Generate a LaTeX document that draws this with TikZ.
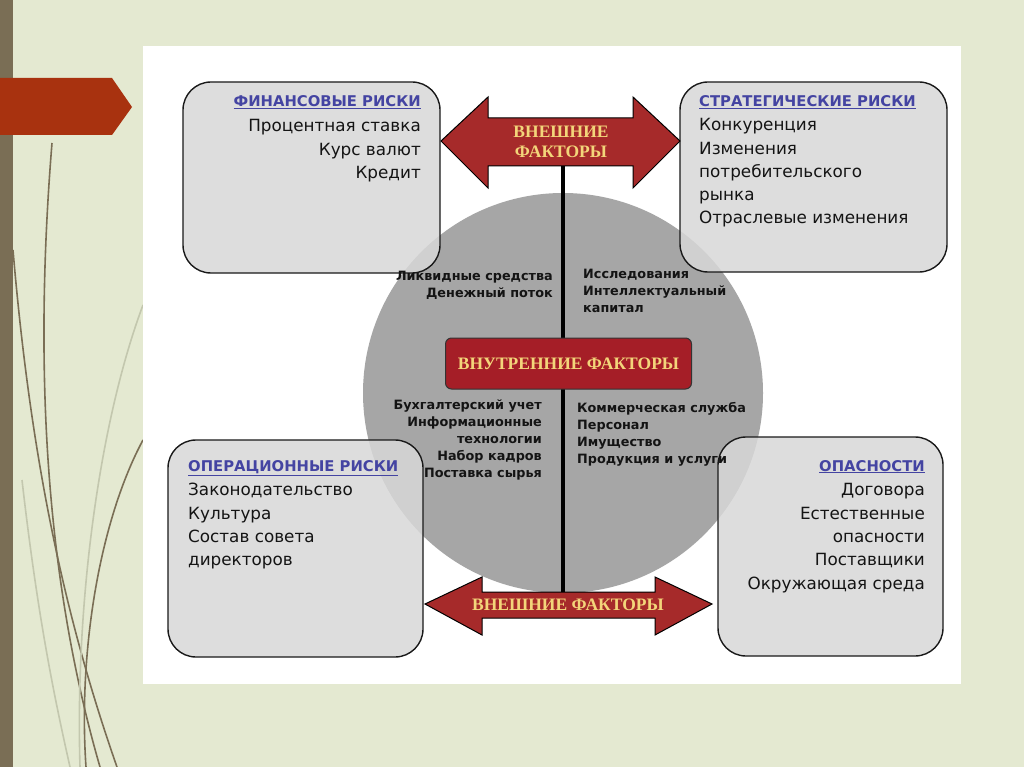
\documentclass[tikz,border=0pt]{standalone}
\usepackage{fontspec}
\setmainfont{DejaVu Sans}
\newfontfamily\yserif{Liberation Serif}
\definecolor{bggreen}{HTML}{E4E9D1}
\definecolor{stripe}{HTML}{7A6E55}
\definecolor{tabred}{HTML}{A8320F}
\definecolor{boxgray}{HTML}{D8D8D8}
\definecolor{circgray}{HTML}{A6A6A6}
\definecolor{headblue}{HTML}{4444A2}
\definecolor{arrred}{HTML}{A62A2A}
\definecolor{inred}{HTML}{A51E27}
\definecolor{ytext}{HTML}{F3D57A}
\definecolor{lightcurve}{HTML}{C3C7AE}
\begin{document}
\begin{tikzpicture}[x=1pt,y=-1pt,
  riskbox/.style={draw=black!90, line width=1.4pt, fill=boxgray, fill opacity=0.85, draw opacity=1, rounded corners=28pt},
  headtxt/.style={font=\fontsize{14.8}{16}\selectfont\bfseries, text=headblue, inner sep=0pt},
  bodytxt/.style={font=\fontsize{16.8}{20}\selectfont, text=black!92, inner sep=0pt},
  circtxt/.style={font=\fontsize{12.8}{15}\selectfont\bfseries, text=black!92, inner sep=0pt},
  ytxt/.style={font=\fontsize{17.5}{20}\selectfont\yserif\bfseries, text=ytext, inner sep=0pt},
  bigarrow/.style={fill=arrred, draw=black, line width=1pt, line join=miter},
  decor/.style={draw=stripe, line width=1.6pt},
  decorlight/.style={draw=lightcurve, line width=1.6pt}
]
\useasboundingbox (0,0) rectangle (1024,767);
% background
\fill[bggreen] (0,0) rectangle (1024,767);
\fill[stripe] (0,0) rectangle (13,767);
\path[decor] (52,143) .. controls (36,340) and (40,560) .. (100,767);
\path[decor] (13,250) .. controls (30,450) and (62,610) .. (117,767);
\path[decorlight] (143,305) .. controls (100,420) and (75,600) .. (80,767);
\path[decor] (143,440) .. controls (100,520) and (78,650) .. (86,767);
\path[decorlight] (22,480) .. controls (38,620) and (55,700) .. (70,767);
\fill[tabred] (0,78) -- (112,78) -- (132,107) -- (112,135) -- (0,135) -- cycle;
% white panel
\fill[white] (143,46) rectangle (961,684);
% circle
\fill[circgray] (563,393) circle[radius=200];
% risk boxes
\path[riskbox] (183,82) rectangle (440,273);
\path[riskbox] (680,82) rectangle (947,272);
\path[riskbox] (168,440) rectangle (423,657);
\path[riskbox] (718,437) rectangle (943,656);
% vertical axis
\coordinate (vtop) at (563,160);
\coordinate (vbot) at (563,598);
\draw[black, line width=3.5pt] (vtop) -- (vbot);
% top double arrow
\path[bigarrow] (441,141) -- (488,97) -- (488,118) -- (633,118) -- (633,97) -- (680,141)
  -- (633,188) -- (633,166) -- (488,166) -- (488,188) -- cycle;
\node[ytxt, anchor=base] (ext1a) at (561,138) {ВНЕШНИЕ};
\node[ytxt, anchor=base] (ext1b) at (561,158) {ФАКТОРЫ};
% bottom double arrow
\path[bigarrow] (425,604) -- (482,577) -- (482,592) -- (655,592) -- (655,577) -- (712,604)
  -- (655,635) -- (655,618) -- (482,618) -- (482,635) -- cycle;
\node[ytxt, anchor=base] (ext2) at (568,610) {ВНЕШНИЕ ФАКТОРЫ};
% internal factors box
\node[fill=inred, draw=black!80, line width=1pt, rounded corners=6pt, minimum width=246pt, minimum height=51pt, inner sep=0pt] (inbox) at (568.5,363.5) {};
\node[ytxt, anchor=base] (intxt) at (inbox.center) [yshift=-6pt] {ВНУТРЕННИЕ ФАКТОРЫ};
% texts in boxes
\node[headtxt, anchor=base east] (fh) at (421,107) {\underline{ФИНАНСОВЫЕ РИСКИ}};
\foreach \t [count=\i] in {Процентная ставка, Курс валют, Кредит}
  \node[bodytxt, anchor=base east] (f\i) at (421,{108.5+23.3*\i}) {\t};
\node[headtxt, anchor=base west] (sh) at (699,107) {\underline{СТРАТЕГИЧЕСКИЕ РИСКИ}};
\foreach \t [count=\i] in {Конкуренция, Изменения, потребительского, рынка, Отраслевые изменения}
  \node[bodytxt, anchor=base west] (s\i) at (699,{107.5+23.3*\i}) {\t};
\node[headtxt, anchor=base west] (oh) at (188,471) {\underline{ОПЕРАЦИОННЫЕ РИСКИ}};
\foreach \t [count=\i] in {Законодательство, Культура, Состав совета, директоров}
  \node[bodytxt, anchor=base west] (o\i) at (188,{472.5+23.3*\i}) {\t};
\node[headtxt, anchor=base east] (dh) at (925,471) {\underline{ОПАСНОСТИ}};
\foreach \t [count=\i] in {Договора, Естественные, опасности, Поставщики, Окружающая среда}
  \node[bodytxt, anchor=base east] (d\i) at (925,{472.5+23.3*\i}) {\t};
% texts in circle
\foreach \t [count=\i] in {Ликвидные средства, Денежный поток}
  \node[circtxt, anchor=base east] (cl\i) at (553,{263+17*\i}) {\t};
\foreach \t [count=\i] in {Исследования, Интеллектуальный, капитал}
  \node[circtxt, anchor=base west] (cr\i) at (583,{261+17*\i}) {\t};
\foreach \t [count=\i] in {Бухгалтерский учет, Информационные, технологии, Набор кадров, Поставка сырья}
  \node[circtxt, anchor=base east] (bl\i) at (542,{392+17*\i}) {\t};
\foreach \t [count=\i] in {Коммерческая служба, Персонал, Имущество, Продукция и услуги}
  \node[circtxt, anchor=base west] (br\i) at (577,{395+17*\i}) {\t};
\end{tikzpicture}
\end{document}
